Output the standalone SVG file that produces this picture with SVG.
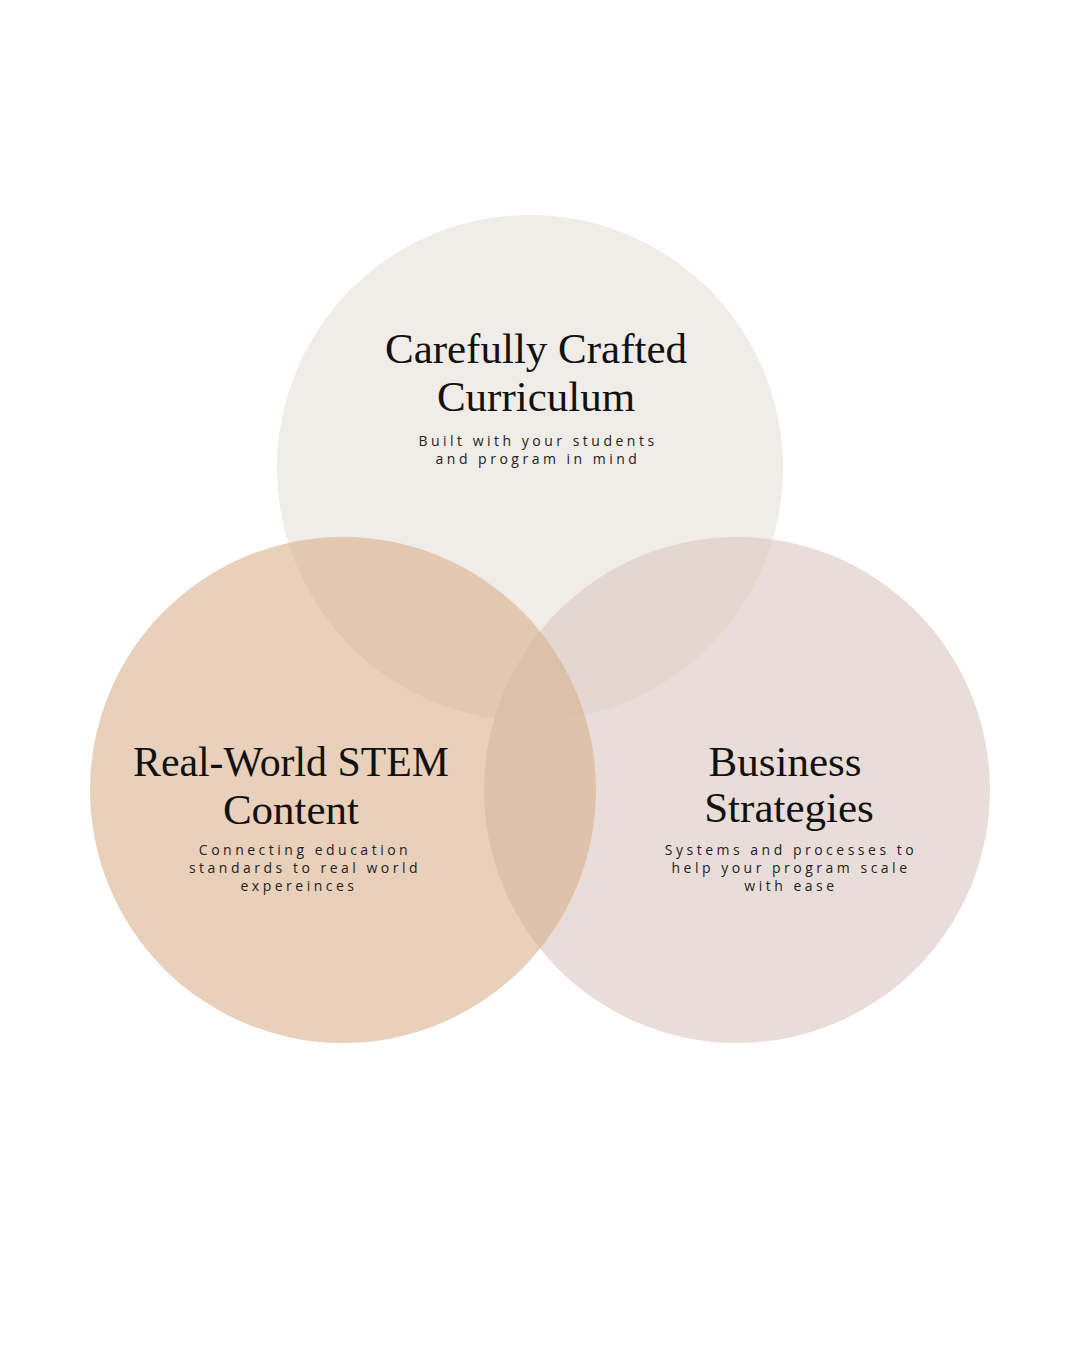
<svg xmlns="http://www.w3.org/2000/svg" width="1080" height="1350" viewBox="0 0 1080 1350">
<style>
.title{font-family:"Liberation Serif","Times New Roman",serif;font-size:43px;fill:#111;text-anchor:middle}
.sub{font-family:"Open Sans","Liberation Sans",sans-serif;font-size:14px;letter-spacing:3.5px;fill:#222;text-anchor:middle}
</style>
<rect width="1080" height="1350" fill="#ffffff"/>
<g id="circle-curriculum">
<circle cx="530" cy="468" r="253" fill="#F0ECE7"/>
</g>
<g id="circle-business">
<circle cx="737" cy="790" r="253" fill="#DECCC6" fill-opacity="0.67"/>
</g>
<g id="circle-stem">
<circle cx="343" cy="790" r="253" fill="#D9B18E" fill-opacity="0.6"/>
</g>
<g id="node-curriculum">
<text class="title" x="536" y="363">Carefully Crafted</text>
<text class="title" x="536" y="411">Curriculum</text>
<text class="sub" x="538" y="446">Built with your students</text>
<text class="sub" x="538" y="464">and program in mind</text>
</g>
<g id="node-stem">
<text class="title" x="291" y="776" textLength="316" lengthAdjust="spacingAndGlyphs">Real-World STEM</text>
<text class="title" x="291" y="824">Content</text>
<text class="sub" x="305" y="855">Connecting education</text>
<text class="sub" x="305" y="873">standards to real world</text>
<text class="sub" x="299" y="891">expereinces</text>
</g>
<g id="node-business">
<text class="title" x="785" y="776">Business</text>
<text class="title" x="789" y="822">Strategies</text>
<text class="sub" x="791" y="855">Systems and processes to</text>
<text class="sub" x="791" y="873">help your program scale</text>
<text class="sub" x="791" y="891">with ease</text>
</g>
<g id="connectors"></g>
</svg>
